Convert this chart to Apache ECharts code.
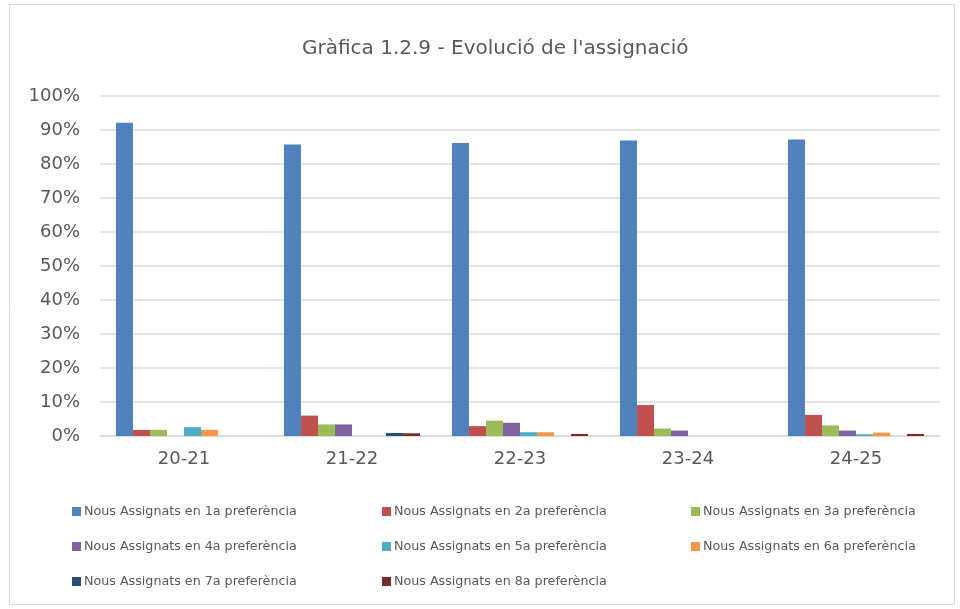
<!DOCTYPE html>
<html>
<head>
<meta charset="utf-8">
<script src="https://cdn.jsdelivr.net/npm/echarts@6/dist/echarts.min.js"></script>
<style>
  html, body { margin: 0; padding: 0; background: #fff; }
  #chart { width: 960px; height: 609px; }
</style>
</head>
<body>
<div id="chart"></div>
<script>
// cursos acadèmics (eix x)
const categories = ['20-21', '21-22', '22-23', '23-24', '24-25']
// noms de les sèries
const seriesNames = [
  'Nous Assignats en 1a preferència',
  'Nous Assignats en 2a preferència',
  'Nous Assignats en 3a preferència',
  'Nous Assignats en 4a preferència',
  'Nous Assignats en 5a preferència',
  'Nous Assignats en 6a preferència',
  'Nous Assignats en 7a preferència',
  'Nous Assignats en 8a preferència'
]
// percentatges llegits de la gràfica
const pref1 = [92.1, 85.7, 86.2, 86.9, 87.2]
const pref2 = [1.8, 6.0, 2.9, 9.1, 6.2]
const pref3 = [1.8, 3.4, 4.5, 2.2, 3.1]
const pref4 = [0, 3.4, 3.9, 1.6, 1.6]
const pref5 = [2.6, 0, 1.1, 0, 0.5]
const pref6 = [1.8, 0, 1.1, 0, 1.0]
const pref7 = [0, 0.9, 0, 0, 0]
const pref8 = [0, 0.8, 0.6, 0, 0.6]
const yTicks = [0, 10, 20, 30, 40, 50, 60, 70, 80, 90, 100]

const allValues = [pref1, pref2, pref3, pref4, pref5, pref6, pref7, pref8]
const colors = ['#4F81BD', '#C0504D', '#9BBB59', '#8064A2', '#4BACC6', '#F79646', '#2C4D75', '#772C2A']
const font = 'DejaVu Sans'

const chart = echarts.init(document.getElementById('chart'))

// llegenda en tres columnes: una llegenda per cada element
const legendCols = [67, 377, 686]
const legendRows = [500, 535, 570]
const legends = seriesNames.map((name, i) => ({
  data: [name],
  left: legendCols[i % 3],
  top: legendRows[Math.floor(i / 3)],
  itemWidth: 9,
  itemHeight: 9,
  itemGap: 2,
  icon: 'rect',
  textStyle: { color: '#595959', fontSize: 12.7, fontFamily: font, padding: [0, 0, 0, -2] }
}))

const option = {
  animation: false,
  color: colors,
  title: {
    text: "Gràfica 1.2.9 - Evolució de l'assignació",
    left: 297,
    top: 34,
    textStyle: { color: '#595959', fontSize: 20, fontWeight: 'normal', fontFamily: font }
  },
  graphic: [{
    type: 'rect',
    shape: { x: 9.5, y: 4.5, width: 945, height: 600 },
    style: { fill: 'none', stroke: '#d9d9d9', lineWidth: 1 },
    silent: true
  }],
  legend: legends,
  grid: { left: 100, right: 20, top: 96, bottom: 173 },
  xAxis: {
    type: 'category',
    data: categories,
    axisTick: { show: false },
    axisLine: { lineStyle: { color: '#d9d9d9', width: 1.5 } },
    axisLabel: { color: '#595959', fontSize: 18, margin: 14, fontFamily: font }
  },
  yAxis: {
    type: 'value',
    min: yTicks[0],
    max: yTicks[yTicks.length - 1],
    interval: 10,
    axisLine: { show: false },
    axisTick: { show: false },
    splitLine: { lineStyle: { color: '#d9d9d9', width: 1.5 } },
    axisLabel: { color: '#595959', fontSize: 18, margin: 20, formatter: '{value}%', fontFamily: font }
  },
  series: seriesNames.map((name, i) => ({
    name: name,
    type: 'bar',
    data: allValues[i],
    barGap: '0%',
    barCategoryGap: '19%'
  }))
}
chart.setOption(option)
</script>
</body>
</html>
